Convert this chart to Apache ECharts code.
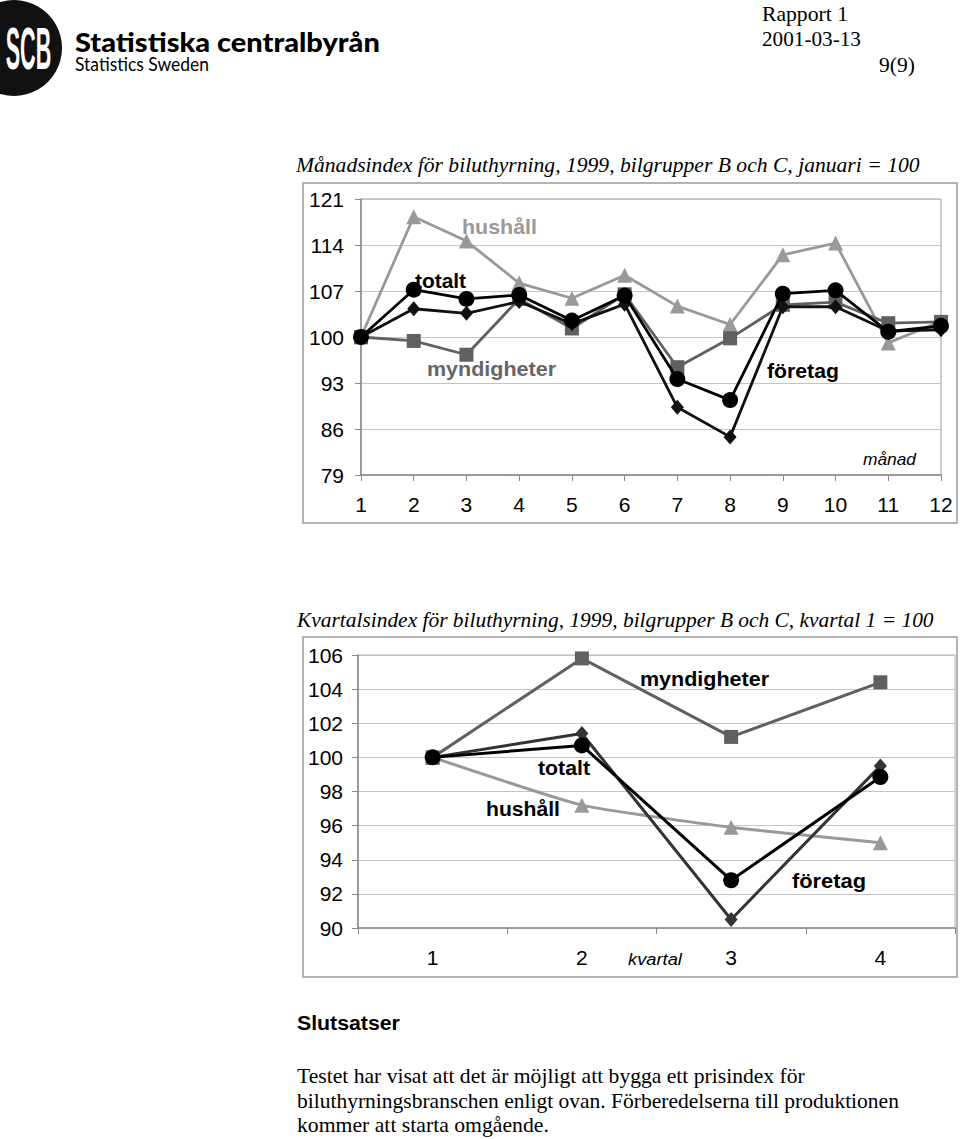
<!DOCTYPE html>
<html><head><meta charset="utf-8">
<script src="https://cdn.jsdelivr.net/npm/echarts@6/dist/echarts.min.js"></script>
<style>html,body{margin:0;padding:0;background:#fff}#c{width:960px;height:1139px}</style>
</head><body><div id="c"></div>
<script>
// ---- data ----
const months = ['1','2','3','4','5','6','7','8','9','10','11','12'];
const mHushall     = [100,118.3,114.6,108.2,105.9,109.4,104.7,101.9,112.5,114.3,99.1,102.4];
const mMyndigheter = [100,99.4,97.3,105.8,101.3,106.5,95.4,99.8,104.9,105.3,102.1,102.3];
const mForetag     = [100,104.3,103.6,105.4,102.0,105.0,89.3,84.8,104.6,104.6,100.9,101.1];
const mTotalt      = [100,107.2,105.8,106.4,102.5,106.3,93.6,90.4,106.6,107.1,100.8,101.7];
const monthAxis = {min:79, max:121, interval:7};

const quarters = ['1','2','3','4'];
const qHushall     = [100,97.2,95.9,95.0];
const qMyndigheter = [100,105.8,101.2,104.4];
const qForetag     = [100,101.4,90.5,99.5];
const qTotalt      = [100,100.7,92.8,98.85];
const quarterAxis = {min:90, max:106, interval:2};

// ---- helpers ----
const mctx = document.createElement('canvas').getContext('2d');
function txt(text, x, y, font, fill, w, align) {
  let sx = 1;
  if (w) { mctx.font = font; sx = w / mctx.measureText(text).width; }
  return {type:'text', x:x, y:y, scaleX:sx, z:100,
    style:{text:text, font:font, fill:fill||'#000', textAlign:align||'left', textVerticalAlign:'middle'}};
}
const SANS = '"Liberation Sans", Arial, sans-serif';
const SERIF = '"Liberation Serif", "Times New Roman", serif';

const chart = echarts.init(document.getElementById('c'), null, {renderer:'svg'});

const axisGray = '#8a8a8a';
const gridGray = '#c4c4c4';
function xAx(idx, data, gap) {
  return {type:'category', gridIndex:idx, data:data, boundaryGap:gap,
    axisLine:{show:true, lineStyle:{color:axisGray, width:1.5}},
    axisTick:{show:true, length:6, lineStyle:{color:axisGray, width:1}},
    axisLabel:{fontSize:21, color:'#000', fontFamily:SANS, margin:19},
    splitLine:{show:false}};
}
function yAx(idx, a, margin) {
  return {type:'value', gridIndex:idx, min:a.min, max:a.max, interval:a.interval,
    axisLine:{show:true, lineStyle:{color:axisGray, width:1.5}},
    axisTick:{show:true, length:6, lineStyle:{color:axisGray, width:1}},
    axisLabel:{fontSize:21, color:'#000', fontFamily:SANS, margin:margin},
    splitLine:{show:true, lineStyle:{color:gridGray, width:1}}};
}
function ser(name, idx, data, color, symbol, size, width, z) {
  return {name:name, type:'line', xAxisIndex:idx, yAxisIndex:idx, data:data,
    symbol:symbol, symbolSize:size, showSymbol:true, z:z,
    lineStyle:{color:color, width:width}, itemStyle:{color:color, borderWidth:0},
    emphasis:{disabled:true}};
}

const graphics = [
  // logo
  {type:'circle', shape:{cx:14, cy:48, r:48}, style:{fill:'#111'}, z:100},
  {type:'text', x:28.5, y:48, scaleX:0.36, z:101,
    style:{text:'SCB', font:'bold 60px ' + SANS, fill:'#fff', textAlign:'center', textVerticalAlign:'middle'}},
  txt('Statistiska centralbyrån', 75, 41, '900 27px Lato, ' + SANS, '#000', 305),
  txt('Statistics Sweden', 75, 63, '20px Lato, ' + SANS, '#000', 134),
  txt('Rapport 1', 762, 14, '20px ' + SERIF, '#000', 86),
  txt('2001-03-13', 762, 39, '20px ' + SERIF, '#000', 99),
  txt('9(9)', 879, 65, '20px ' + SERIF, '#000', 36),
  // titles
  txt('Månadsindex för biluthyrning, 1999, bilgrupper B och C, januari = 100', 296, 165, 'italic 21px ' + SERIF, '#000', 624),
  txt('Kvartalsindex för biluthyrning, 1999, bilgrupper B och C, kvartal 1 = 100', 297, 620, 'italic 21px ' + SERIF, '#000', 637),
  // boxes
  {type:'rect', shape:{x:303, y:183, width:654, height:340}, style:{fill:'none', stroke:'#9c9c9c', lineWidth:1.5}, z:1},
  {type:'rect', shape:{x:303, y:637, width:654, height:340}, style:{fill:'none', stroke:'#9c9c9c', lineWidth:1.5}, z:1},
  // top chart labels
  txt('hushåll', 462, 227, 'bold 21px ' + SANS, '#999999', 75),
  txt('totalt', 415, 280, 'bold 21px ' + SANS, '#000', 51),
  txt('myndigheter', 427, 369, 'bold 21px ' + SANS, '#666666', 129),
  txt('företag', 767, 371, 'bold 21px ' + SANS, '#000', 72),
  txt('månad', 863, 459, 'italic 17px ' + SANS, '#000', 53),
  // bottom chart labels
  txt('myndigheter', 640, 679, 'bold 21px ' + SANS, '#000', 129),
  txt('totalt', 538, 768, 'bold 21px ' + SANS, '#000', 52),
  txt('hushåll', 486, 809, 'bold 21px ' + SANS, '#000', 74),
  txt('företag', 792, 881, 'bold 21px ' + SANS, '#000', 74),
  txt('kvartal', 628, 959, 'italic 17px ' + SANS, '#000', 54),
  // body
  txt('Slutsatser', 297, 1023, 'bold 21px ' + SANS, '#000', 103),
  txt('Testet har visat att det är möjligt att bygga ett prisindex för', 297, 1076, '21px ' + SERIF, '#000', 508),
  txt('biluthyrningsbranschen enligt ovan. Förberedelserna till produktionen', 297, 1101, '21px ' + SERIF, '#000', 602),
  txt('kommer att starta omgående.', 297, 1125, '21px ' + SERIF, '#000', 252)
];

chart.setOption({
  animation:false,
  backgroundColor:'#fff',
  grid:[
    {left:361, top:199, width:580, height:276, show:true, borderColor:'#9a9a9a', borderWidth:1, backgroundColor:'transparent'},
    {left:358, top:655, width:597, height:273, show:true, borderColor:'#b0b0b0', borderWidth:1, backgroundColor:'transparent'}
  ],
  xAxis:[xAx(0, months, false), xAx(1, quarters, true)],
  yAxis:[yAx(0, monthAxis, 17), yAx(1, quarterAxis, 15)],
  series:[
    ser('hushåll', 0, mHushall, '#999999', 'triangle', 15, 2.8, 2),
    ser('myndigheter', 0, mMyndigheter, '#606060', 'rect', 14, 2.8, 3),
    ser('företag', 0, mForetag, '#111111', 'diamond', [13,15], 2.8, 4),
    ser('totalt', 0, mTotalt, '#000000', 'circle', 16, 2.8, 5),
    Object.assign(ser('hushåll', 1, qHushall, '#999999', 'triangle', 15, 3, 2), {smooth:0.15}),
    ser('myndigheter', 1, qMyndigheter, '#606060', 'rect', 14, 3, 3),
    ser('företag', 1, qForetag, '#333333', 'diamond', [13,15], 3, 4),
    ser('totalt', 1, qTotalt, '#000000', 'circle', 16, 3, 5)
  ],
  graphic:graphics
});
</script>
</body></html>
